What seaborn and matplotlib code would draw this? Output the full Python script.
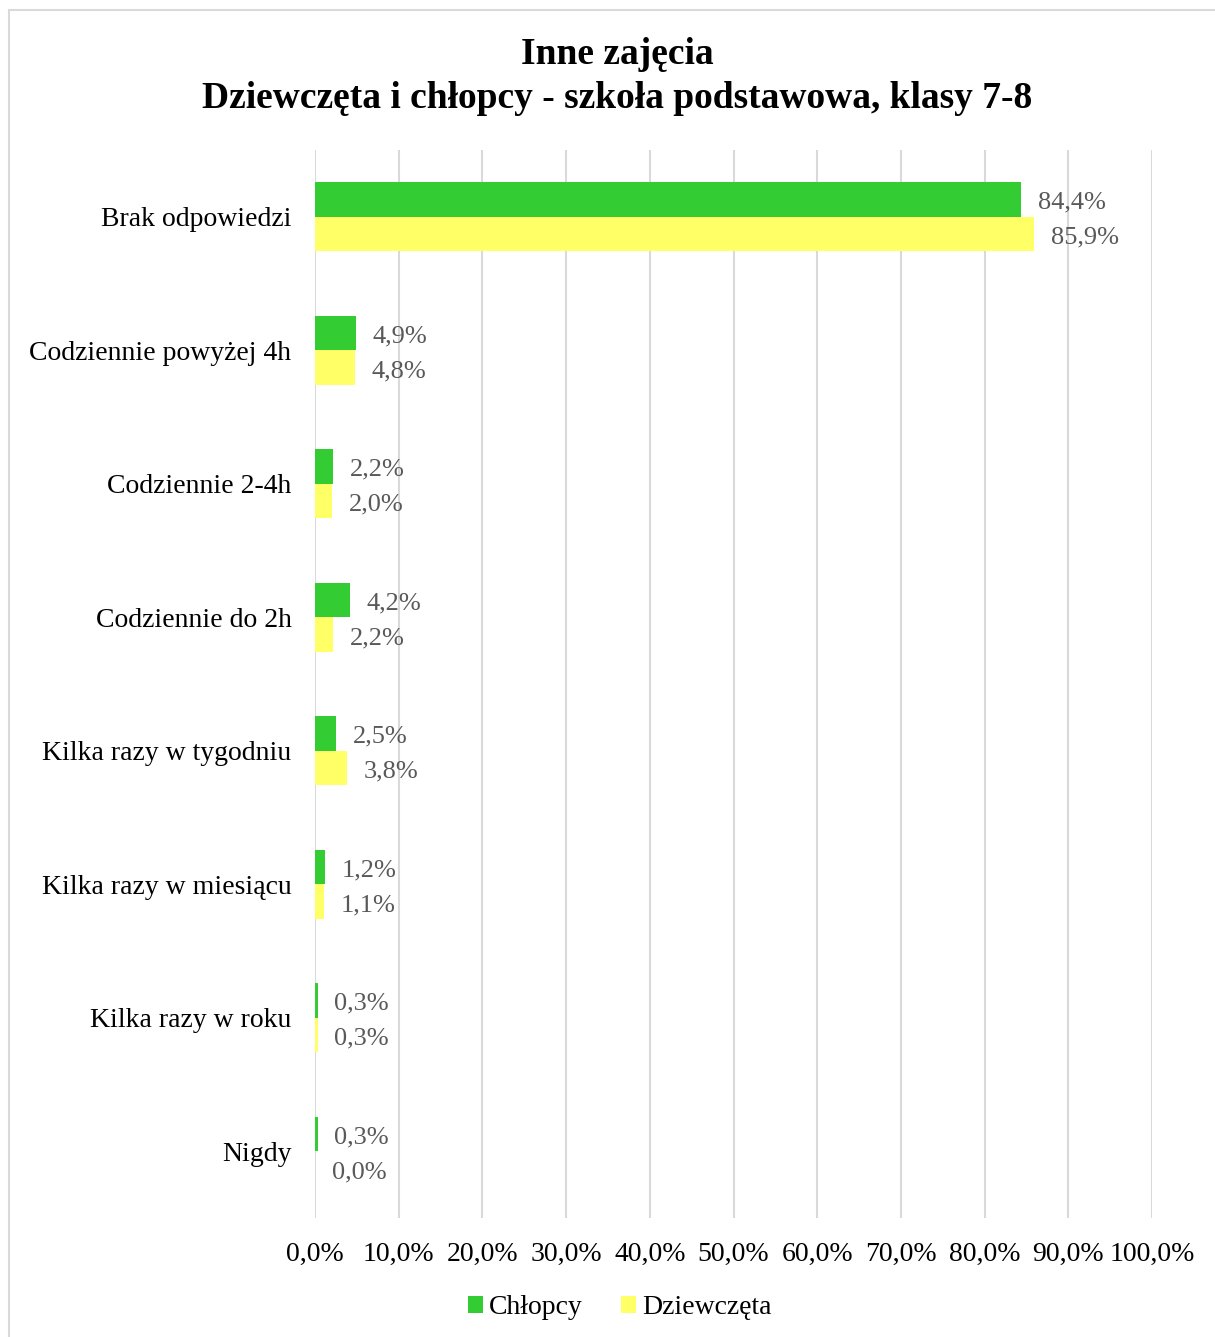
import matplotlib
matplotlib.use("Agg")
import matplotlib.pyplot as plt
import seaborn as sns
import pandas as pd
from matplotlib.patches import Rectangle

categories = ["Brak odpowiedzi", "Codziennie powyżej 4h", "Codziennie 2-4h",
              "Codziennie do 2h", "Kilka razy w tygodniu", "Kilka razy w miesiącu",
              "Kilka razy w roku", "Nigdy"]
chlopcy = [84.4, 4.9, 2.2, 4.2, 2.5, 1.2, 0.3, 0.3]
dziewczeta = [85.9, 4.8, 2.0, 2.2, 3.8, 1.1, 0.3, 0.0]
series_names = ["Chłopcy", "Dziewczęta"]
xticks = [0, 10, 20, 30, 40, 50, 60, 70, 80, 90, 100]

df = pd.DataFrame({
    "kategoria": categories * 2,
    "wartosc": chlopcy + dziewczeta,
    "grupa": [series_names[0]] * len(categories) + [series_names[1]] * len(categories),
})

sns.set_theme(style="white")
plt.rcParams["font.family"] = ["Liberation Serif", "DejaVu Serif"]
plt.rcParams["text.color"] = "#000000"

fig = plt.figure(figsize=(12.15, 13.37), dpi=100)
ax = fig.add_axes([0.2593, 0.0890, 0.6889, 0.7988])

palette = {"Chłopcy": "#33CC33", "Dziewczęta": "#FFFF66"}
sns.barplot(data=df, y="kategoria", x="wartosc", hue="grupa", order=categories,
            hue_order=series_names, palette=palette, orient="h", width=0.52,
            ax=ax, legend=True, saturation=1, edgecolor="none")

ax.set_xlim(0, 100)
ax.set_ylim(len(categories) - 0.5, -0.5)
ax.set_xticks(xticks)
ax.set_xticklabels([f"{v:.1f}%".replace(".", ",") for v in xticks], fontsize=20, color="#000000")
ax.tick_params(axis="y", labelsize=20, colors="#000000", length=0, pad=17)
ax.tick_params(axis="x", length=0, pad=17)
ax.set_xlabel("")
ax.set_ylabel("")
for s in ax.spines.values():
    s.set_visible(False)
ax.xaxis.grid(True, color="#D9D9D9", linewidth=1.5)
ax.set_axisbelow(True)

vals = [chlopcy, dziewczeta]
for cont, v in zip(ax.containers, vals):
    anns = ax.bar_label(cont, labels=[f"{x:.1f}%".replace(".", ",") for x in v],
                        padding=12, fontsize=19, color="#595959")
    for a in anns:
        a.xyann = (a.xyann[0], -2.5)

handles, labels = ax.get_legend_handles_labels()
ax.get_legend().remove()
leg = fig.legend(handles, labels, loc="center", bbox_to_anchor=(0.510, 0.022), ncol=2,
                 frameon=False, fontsize=20, handlelength=0.55, handleheight=0.55,
                 handletextpad=0.2, columnspacing=1.4)
for t in leg.get_texts():
    t.set_color("#000000")

fig.text(0.508, 0.959, "Inne zajęcia", ha="center", va="center",
         fontsize=27, fontweight="bold", color="#000000")
fig.text(0.508, 0.926, "Dziewczęta i chłopcy - szkoła podstawowa, klasy 7-8",
         ha="center", va="center", fontsize=27, fontweight="bold", color="#000000")

fig.patches.append(Rectangle((9 / 1215, -0.05), 1.1, 0.05 + 1 - 10 / 1337,
                             transform=fig.transFigure, fill=False,
                             edgecolor="#D9D9D9", linewidth=1.5))

fig.savefig("out.png", dpi=100)
